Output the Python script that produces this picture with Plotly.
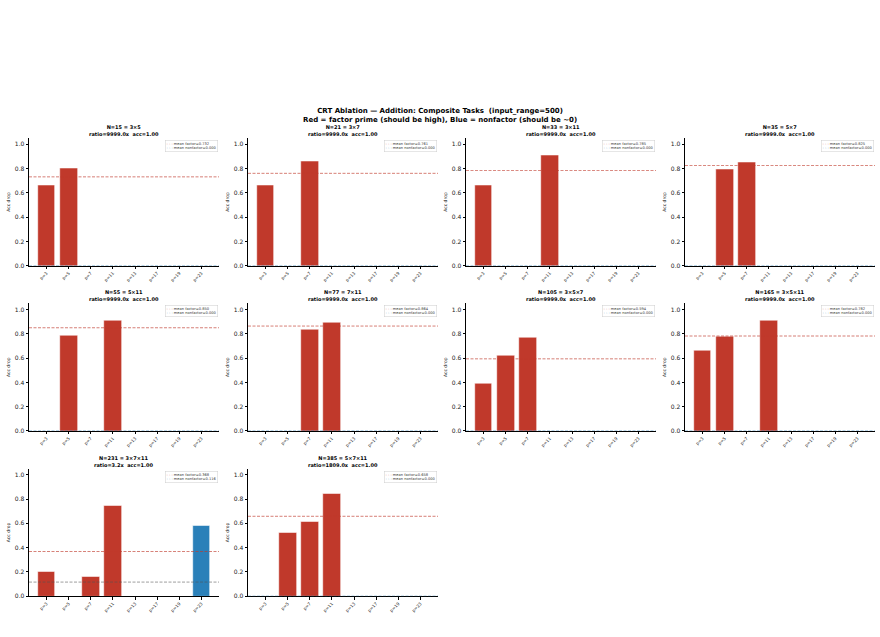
import plotly.graph_objects as go

W, H = 880, 637
FONT = "DejaVu Sans"
RED = "#c0392b"
BLUE = "#2a80b9"

primes = ["p=3", "p=5", "p=7", "p=11", "p=13", "p=17", "p=19", "p=23"]

titles = [
    "N=15 = 3×5<br>ratio=9999.0x  acc=1.00",
    "N=21 = 3×7<br>ratio=9999.0x  acc=1.00",
    "N=33 = 3×11<br>ratio=9999.0x  acc=1.00",
    "N=35 = 5×7<br>ratio=9999.0x  acc=1.00",
    "N=55 = 5×11<br>ratio=9999.0x  acc=1.00",
    "N=77 = 7×11<br>ratio=9999.0x  acc=1.00",
    "N=105 = 3×5×7<br>ratio=9999.0x  acc=1.00",
    "N=165 = 3×5×11<br>ratio=9999.0x  acc=1.00",
    "N=231 = 3×7×11<br>ratio=3.2x  acc=1.00",
    "N=385 = 5×7×11<br>ratio=1809.0x  acc=1.00",
]

# factor primes for each N
factors = [
    ["p=3", "p=5"],
    ["p=3", "p=7"],
    ["p=3", "p=11"],
    ["p=5", "p=7"],
    ["p=5", "p=11"],
    ["p=7", "p=11"],
    ["p=3", "p=5", "p=7"],
    ["p=3", "p=5", "p=11"],
    ["p=3", "p=7", "p=11"],
    ["p=5", "p=7", "p=11"],
]

# accuracy drop per prime (order p=3..p=23)
drops = [
    [0.66, 0.80, 0, 0, 0, 0, 0, 0],
    [0.66, 0, 0.86, 0, 0, 0, 0, 0],
    [0.66, 0, 0, 0.91, 0, 0, 0, 0],
    [0, 0.795, 0.855, 0, 0, 0, 0, 0],
    [0, 0.79, 0, 0.91, 0, 0, 0, 0],
    [0, 0, 0.835, 0.893, 0, 0, 0, 0],
    [0.39, 0.625, 0.767, 0, 0, 0, 0, 0],
    [0.66, 0.78, 0, 0.906, 0, 0, 0, 0],
    [0.20, 0, 0.16, 0.744, 0, 0, 0, 0.58],
    [0, 0.52, 0.61, 0.844, 0, 0, 0, 0],
]

mean_factor = [0.732, 0.761, 0.785, 0.825, 0.850, 0.864, 0.594, 0.782, 0.368, 0.658]
mean_nonfactor = [0.000, 0.000, 0.000, 0.000, 0.000, 0.000, 0.000, 0.000, 0.116, 0.000]

# layout in pixels
col_left = [29, 248, 466, 685]
col_width = 190
row_zero = [267, 433, 599]   # pixel y of value 0
unit_px = 122                # pixels per 1.0
y_top_val = 1.05
x_rng = [-0.79, 7.79]

fig = go.Figure()
annotations = []
shapes = []

def fx(px):
    return px / W

def fy(py):
    return 1 - py / H

for i in range(10):
    r, c = divmod(i, 4)
    n = i + 1
    xa = "x" if n == 1 else f"x{n}"
    ya = "y" if n == 1 else f"y{n}"
    xkey = "xaxis" if n == 1 else f"xaxis{n}"
    ykey = "yaxis" if n == 1 else f"yaxis{n}"

    colors = [RED if p in factors[i] else BLUE for p in primes]
    fig.add_trace(go.Bar(
        x=list(range(len(primes))), y=drops[i], marker_color=colors,
        marker_line_color="white", marker_line_width=0.6,
        width=0.8, xaxis=xa, yaxis=ya, showlegend=False,
    ))

    L = col_left[c]
    R = L + col_width
    b = row_zero[r]
    t = b - unit_px * y_top_val
    fig.layout[xkey] = dict(
        domain=[fx(L), fx(R)], anchor=ya, range=x_rng,
        tickmode="array", tickvals=list(range(len(primes))), ticktext=primes,
        tickangle=-45, tickfont=dict(size=4.3, family=FONT, color="#222"),
        showline=True, linecolor="black", linewidth=0.8, mirror=False,
        ticks="outside", ticklen=2.5, tickwidth=0.6, tickcolor="black",
        showgrid=False, zeroline=False, fixedrange=True,
    )
    fig.layout[ykey] = dict(
        domain=[fy(b), fy(t)], anchor=xa, range=[0, y_top_val],
        tickmode="array", tickvals=[0, 0.2, 0.4, 0.6, 0.8, 1.0],
        ticktext=["0.0", "0.2", "0.4", "0.6", "0.8", "1.0"],
        tickfont=dict(size=6, family=FONT, color="#222"),
        showline=True, linecolor="black", linewidth=0.8, mirror=False,
        ticks="outside", ticklen=2.5, tickwidth=0.6, tickcolor="black",
        showgrid=False, zeroline=False, fixedrange=True,
        title=dict(text="Acc drop", font=dict(size=4.5, family=FONT, color="#222"), standoff=4),
    )

    # mean lines
    shapes.append(dict(type="line", xref=f"{xa} domain", yref=ya, x0=0, x1=1,
                       y0=mean_factor[i], y1=mean_factor[i],
                       line=dict(color=RED, width=0.8, dash="3px,1.5px"), opacity=0.8))
    shapes.append(dict(type="line", xref=f"{xa} domain", yref=ya, x0=0, x1=1,
                       y0=mean_nonfactor[i], y1=mean_nonfactor[i],
                       line=dict(color=BLUE if mean_nonfactor[i] == 0 else "#555", width=0.7,
                                 dash="3px,1.5px"),
                       opacity=0.8))

    # panel title
    annotations.append(dict(
        text=f"<b>{titles[i]}</b>", x=fx((L + R) / 2), y=fy(t + 1),
        xref="paper", yref="paper", xanchor="center", yanchor="bottom",
        showarrow=False, font=dict(size=5, family=FONT, color="black"),
    ))
    # legend box
    annotations.append(dict(
        text=(f"<span style='color:{RED}'>- - -</span> mean factor={mean_factor[i]:.3f}<br>"
              f"<span style='color:{BLUE}'>- - -</span> mean nonfactor={mean_nonfactor[i]:.3f}"),
        x=fx(R - 1), y=fy(t + 2), xref="paper", yref="paper",
        xanchor="right", yanchor="top", align="left", showarrow=False,
        font=dict(size=3.6, family=FONT, color="#333"),
        bgcolor="white", bordercolor="#cccccc", borderwidth=0.5, borderpad=1,
    ))

annotations.append(dict(
    text="<b>CRT Ablation — Addition: Composite Tasks  (input_range=500)<br>"
         "Red = factor prime (should be high), Blue = nonfactor (should be ~0)</b>",
    x=0.5, y=fy(105), xref="paper", yref="paper", xanchor="center", yanchor="top",
    showarrow=False, font=dict(size=7, family=FONT, color="black"),
))

fig.update_layout(
    width=W, height=H, margin=dict(l=0, r=0, t=0, b=0),
    paper_bgcolor="white", plot_bgcolor="white",
    annotations=annotations, shapes=shapes, showlegend=False,
    bargap=0, font=dict(family=FONT),
)

fig.write_html("out.html")
